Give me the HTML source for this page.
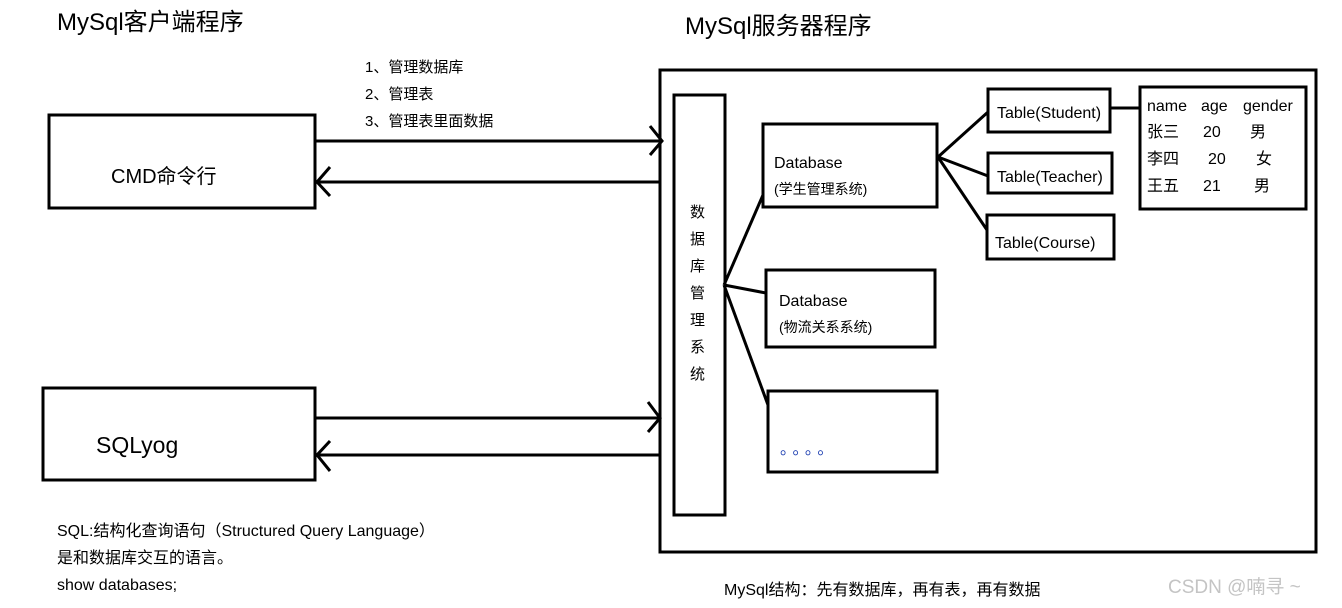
<!DOCTYPE html>
<html><head><meta charset="utf-8"><style>
html,body{margin:0;padding:0;background:#fff;}
svg{display:block;}
text{font-family:"Liberation Sans","Noto Sans CJK SC",sans-serif;}
</style></head><body>
<svg width="1342" height="608" viewBox="0 0 1342 608" xmlns="http://www.w3.org/2000/svg">
<g fill="none" stroke="#000" stroke-width="3">
<rect x="660" y="70" width="656" height="482"/>
<rect x="674" y="95" width="51" height="420"/>
<rect x="49" y="115" width="266" height="93"/>
<rect x="43" y="388" width="272" height="92"/>
<rect x="763" y="124" width="174" height="83"/>
<rect x="766" y="270" width="169" height="77"/>
<rect x="768" y="391" width="169" height="81"/>
<rect x="988" y="89" width="122" height="43"/>
<rect x="988" y="153" width="124" height="40"/>
<rect x="987" y="215" width="127" height="44"/>
<rect x="1140" y="87" width="166" height="122"/>
<line x1="1110" y1="108" x2="1140" y2="108"/>
<line x1="315" y1="141" x2="662" y2="141"/>
<polyline points="650,126 662,141 650,155"/>
<line x1="660" y1="182" x2="317" y2="182"/>
<polyline points="330,167 317,182 330,196"/>
<line x1="315" y1="418" x2="660" y2="418"/>
<polyline points="648,402 660,418 648,432"/>
<line x1="660" y1="455" x2="317" y2="455"/>
<polyline points="330,441 317,455 330,471"/>
<line x1="724" y1="285" x2="763" y2="195"/>
<line x1="724" y1="285" x2="766" y2="293"/>
<line x1="724" y1="285" x2="768" y2="405"/>
<line x1="938" y1="157" x2="988" y2="112"/>
<line x1="938" y1="157" x2="988" y2="176"/>
<line x1="938" y1="157" x2="987" y2="230"/>
</g>
<g fill="#000">
<text x="57" y="30" font-size="24">MySql客户端程序</text>
<text x="685" y="34" font-size="24">MySql服务器程序</text>
<text x="365" y="72" font-size="15">1、管理数据库</text>
<text x="365" y="99" font-size="15">2、管理表</text>
<text x="365" y="126" font-size="15">3、管理表里面数据</text>
<text x="111" y="183" font-size="20">CMD命令行</text>
<text x="96" y="453" font-size="23">SQLyog</text>
<g font-size="15">
<text x="690" y="217">数</text><text x="690" y="244">据</text><text x="690" y="271">库</text>
<text x="690" y="298">管</text><text x="690" y="325">理</text><text x="690" y="352">系</text><text x="690" y="379">统</text>
</g>
<text x="774" y="168" font-size="16">Database</text>
<text x="774" y="194" font-size="14">(学生管理系统)</text>
<text x="779" y="306" font-size="16">Database</text>
<text x="779" y="332" font-size="14">(物流关系系统)</text>
<text x="997" y="118" font-size="16">Table(Student)</text>
<text x="997" y="182" font-size="16">Table(Teacher)</text>
<text x="995" y="248" font-size="16">Table(Course)</text>
<g font-size="16">
<text x="1147" y="111">name</text><text x="1201" y="111">age</text><text x="1243" y="111">gender</text>
<text x="1147" y="137">张三</text><text x="1203" y="137">20</text><text x="1250" y="137">男</text>
<text x="1147" y="164">李四</text><text x="1208" y="164">20</text><text x="1256" y="164">女</text>
<text x="1147" y="191">王五</text><text x="1203" y="191">21</text><text x="1254" y="191">男</text>
</g>
<g font-size="16">
<text x="57" y="536">SQL:结构化查询语句（Structured Query Language）</text>
<text x="57" y="563">是和数据库交互的语言。</text>
<text x="57" y="590">show databases;</text>
</g>
<text x="724" y="595" font-size="16">MySql结构：先有数据库，再有表，再有数据</text>
</g>
<text x="780" y="454" font-size="16" style="fill:#1a3cb0;letter-spacing:-4px">。 。 。 。</text>
<text x="1168" y="593" font-size="19" style="fill:#c4c4c4">CSDN @喃寻 ~</text>
</svg>
</body></html>
